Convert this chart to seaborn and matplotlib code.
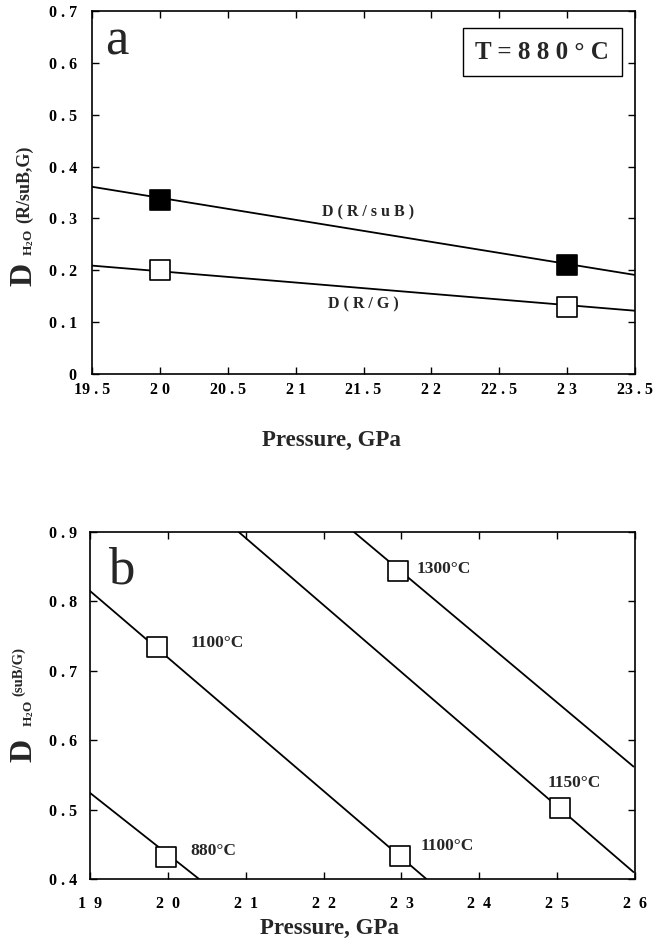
import matplotlib
matplotlib.use("Agg")
import matplotlib.pyplot as plt
import seaborn as sns

# panel a: T = 880 C
a_line_x = [19.5, 23.5]
a_rsub_line = [0.361, 0.191]
a_rg_line = [0.209, 0.122]
a_pts_x = [20.0, 23.0]
a_rsub_pts = [0.336, 0.211]
a_rg_pts = [0.201, 0.129]
a_xticks = [19.5, 20, 20.5, 21, 21.5, 22, 22.5, 23, 23.5]
a_xlabels = ["19 . 5", "2 0", "20 . 5", "2 1", "21 . 5", "2 2", "22 . 5", "2 3", "23 . 5"]
a_yticks = [0, 0.1, 0.2, 0.3, 0.4, 0.5, 0.6, 0.7]
a_ylabels = ["0", "0 . 1", "0 . 2", "0 . 3", "0 . 4", "0 . 5", "0 . 6", "0 . 7"]

# panel b: isotherms
b_lines = {
    "880": ([19.0, 20.4], [0.524, 0.40]),
    "1100": ([19.0, 23.32], [0.815, 0.40]),
    "1150": ([20.91, 25.98], [0.90, 0.41]),
    "1300": ([22.39, 25.98], [0.90, 0.562]),
}
b_pts_x = [19.97, 19.86, 22.98, 25.03, 22.96]
b_pts_y = [0.432, 0.734, 0.433, 0.502, 0.844]
b_pt_labels = ["880°C", "1100°C", "1100°C", "1150°C", "1300°C"]
b_label_x = [20.29, 20.29, 23.24, 24.88, 23.20]
b_label_y = [0.440, 0.740, 0.447, 0.538, 0.847]
b_xticks = [19, 20, 21, 22, 23, 24, 25, 26]
b_xlabels = ["1  9", "2  0", "2  1", "2  2", "2  3", "2  4", "2  5", "2  6"]
b_yticks = [0.4, 0.5, 0.6, 0.7, 0.8, 0.9]
b_ylabels = ["0 . 4", "0 . 5", "0 . 6", "0 . 7", "0 . 8", "0 . 9"]

sns.set_style("ticks")
plt.rcParams["font.family"] = ["Liberation Serif", "DejaVu Serif"]
plt.rcParams["mathtext.fontset"] = "custom"
plt.rcParams["mathtext.rm"] = "Liberation Serif:bold"
plt.rcParams["mathtext.bf"] = "Liberation Serif:bold"
plt.rcParams["mathtext.it"] = "Liberation Serif:bold"

fig = plt.figure(figsize=(6.72, 9.39), dpi=100)
ax1 = fig.add_axes([0.137, 0.6017, 0.808, 0.3866])
ax2 = fig.add_axes([0.134, 0.0639, 0.811, 0.3695])


def style_axes(ax, xt, xl, yt, yl, xpad, ypad):
    ax.set_xticks(xt)
    ax.set_xticklabels(xl, fontweight="bold", fontsize=11.5)
    ax.set_yticks(yt)
    ax.set_yticklabels(yl, fontweight="bold", fontsize=11.5)
    ax.tick_params(direction="in", length=5, width=1, top=True, right=True, colors="black")
    ax.tick_params(axis="x", pad=xpad)
    ax.tick_params(axis="y", pad=ypad)
    for s in ax.spines.values():
        s.set_linewidth(1.2)
        s.set_color("black")
    ax.set_xlabel("Pressure, GPa", fontsize=16.5, fontweight="bold")
    ax.set_ylabel("")


# ---- panel a
sns.lineplot(x=a_line_x, y=a_rsub_line, ax=ax1, color="black", lw=1.3)
sns.lineplot(x=a_line_x, y=a_rg_line, ax=ax1, color="black", lw=1.3)
sns.scatterplot(x=a_pts_x, y=a_rsub_pts, ax=ax1, marker="s", s=200,
                color="black", edgecolor="black", linewidth=1.2, zorder=3)
sns.scatterplot(x=a_pts_x, y=a_rg_pts, ax=ax1, marker="s", s=200,
                color="white", edgecolor="black", linewidth=1.2, zorder=3)
ax1.set_xlim(19.5, 23.5)
ax1.set_ylim(0, 0.7)
style_axes(ax1, a_xticks, a_xlabels, a_yticks, a_ylabels, 6, 11)
ax1.xaxis.set_label_coords(0.44, -0.155)
ax1.text(21.53, 0.311, "D ( R / s u B )", fontsize=11.5, fontweight="bold",
         ha="center", va="center")
ax1.text(21.5, 0.134, "D ( R / G )", fontsize=11.5, fontweight="bold",
         ha="center", va="center")
ax1.text(0.024, 0.879, "a", transform=ax1.transAxes, fontsize=38,
         ha="left", va="baseline")
ax1.text(0.829, 0.887, "T = 8 8 0 ° C", transform=ax1.transAxes, fontsize=18,
         fontweight="bold", ha="center", va="center",
         bbox=dict(boxstyle="square,pad=0.5", fc="white", ec="black", lw=1))

# ---- panel b
for key, (lx, ly) in b_lines.items():
    sns.lineplot(x=lx, y=ly, ax=ax2, color="black", lw=1.3)
sns.scatterplot(x=b_pts_x, y=b_pts_y, ax=ax2, marker="s", s=200,
                color="white", edgecolor="black", linewidth=1.2, zorder=3)
for lx, ly, lab in zip(b_label_x, b_label_y, b_pt_labels):
    ax2.text(lx, ly, lab, fontsize=12.5, fontweight="bold", ha="left", va="center")
ax2.set_xlim(19, 26)
ax2.set_ylim(0.4, 0.9)
style_axes(ax2, b_xticks, b_xlabels, b_yticks, b_ylabels, 12, 9)
ax2.xaxis.set_label_coords(0.44, -0.112)
ax2.text(0.033, 0.853, "b", transform=ax2.transAxes, fontsize=38,
         ha="left", va="baseline")

# y labels built from pieces, in figure pixels
W, H = 672, 939
def ftext(x, y, s, size, **kw):
    fig.text(x / W, 1 - y / H, s, fontsize=size, rotation=90,
             ha="center", va="center", **kw)

ftext(24, 274, "D", 23, fontweight="bold")
ftext(29, 243, r"$\mathbf{H_2O}$", 9.5)
ftext(25, 184, "(R/suB,G)", 13, fontweight="bold")

ftext(24, 750, "D", 23, fontweight="bold")
ftext(29, 714, r"$\mathbf{H_2O}$", 9.5)
ftext(19, 672, "(suB/G)", 10.5, fontweight="bold")

fig.savefig("out.png", dpi=100, facecolor="white")
